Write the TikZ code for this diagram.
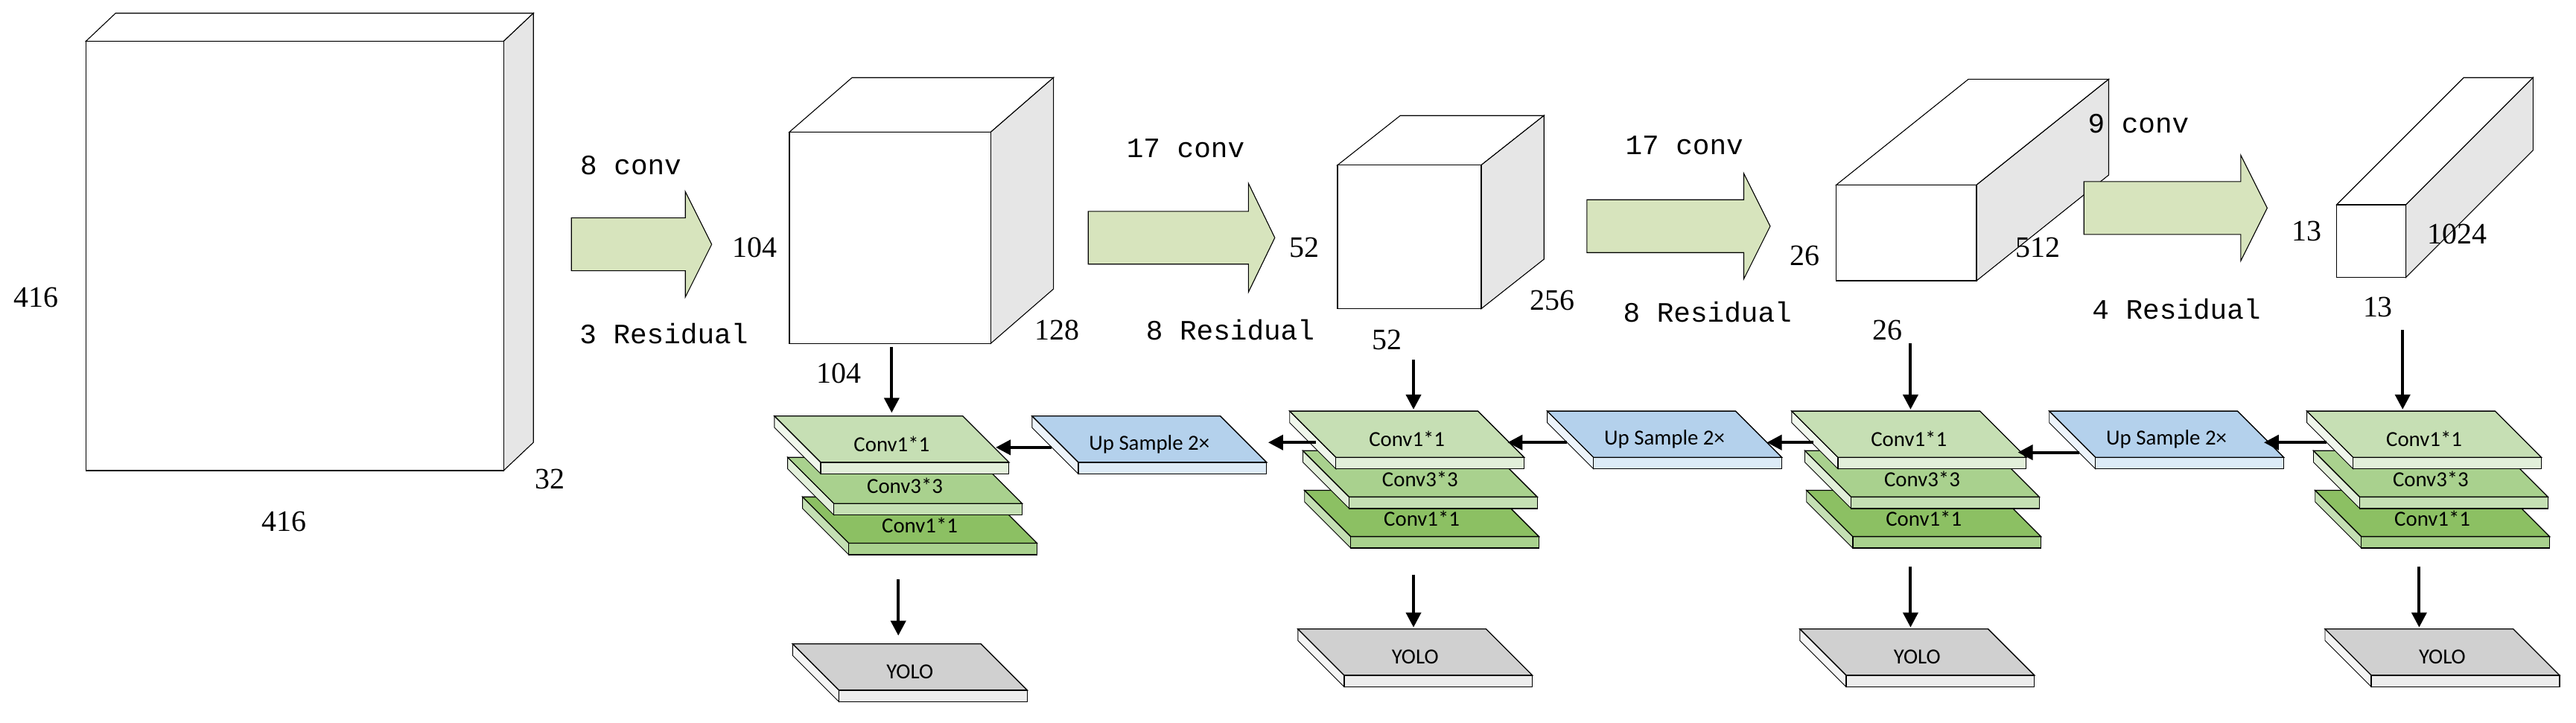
\documentclass[tikz,border=0pt]{standalone}
\usepackage{fontspec}
\setmainfont{Liberation Serif}
\newfontfamily\monof{Liberation Mono}
\newfontfamily\calf{Carlito}
\usetikzlibrary{arrows.meta}
\definecolor{gA}{HTML}{C6DFB4}\definecolor{gAf}{HTML}{E2EFDA}\definecolor{gAs}{HTML}{F0F7EC}
\definecolor{gB}{HTML}{A9D18E}\definecolor{gBf}{HTML}{C5E0B4}\definecolor{gBs}{HTML}{E2EFDA}
\definecolor{gC}{HTML}{8CC063}\definecolor{gCf}{HTML}{A9D18E}\definecolor{gCs}{HTML}{C5E0B4}
\definecolor{bA}{HTML}{B4D1EC}\definecolor{bAf}{HTML}{DDEBF7}\definecolor{bAs}{HTML}{EDF4FB}
\definecolor{yA}{HTML}{D0D0D0}\definecolor{yAf}{HTML}{EDEDED}\definecolor{yAs}{HTML}{F4F4F4}
\definecolor{arr}{HTML}{D7E4BD}\definecolor{side}{HTML}{E6E6E6}
\tikzset{
  num/.style={font=\fontsize{18}{20}\selectfont},
  lab/.style={font=\monof\fontsize{17}{19}\selectfont},
  slabtxt/.style={font=\calf\fontsize{13}{15}\selectfont,inner sep=0pt},
  edge/.style={draw=black,line width=0.6pt},
  conn/.style={line width=1.8pt,-{Triangle[length=9pt,width=9pt]}},
}
% slab: name, x, y, top, front, side, text
\newcommand{\mkslab}[7]{%
  \fill[#6] (#2,#3) -- (#2+28,#3+28) -- (#2+28,#3+35) -- (#2,#3+7) -- cycle;
  \draw[line width=0.4pt] (#2,#3) -- (#2+28,#3+28) -- (#2+28,#3+35) -- (#2,#3+7) -- cycle;
  \filldraw[fill=#5,edge] (#2+28,#3+28) rectangle (#2+142,#3+35);
  \filldraw[fill=#4,edge] (#2,#3) -- (#2+114,#3) -- (#2+142,#3+28) -- (#2+28,#3+28) -- cycle;
  \node[slabtxt] (#1) at (#2+71,#3+17) {#7};
  \coordinate (#1-t) at (#2+71,#3);
  \coordinate (#1-r) at (#2+128,#3+16);
  \coordinate (#1-l) at (#2+14,#3+16);
}
% cube: name, x1,y1 (front top-left), x2,y2 (front bottom-right), dx, dy(up)
\newcommand{\mkcube}[7]{%
  \filldraw[fill=white,line width=0.5pt] (#2,#3) -- (#2+#6,#3-#7) -- (#4+#6,#3-#7) -- (#4,#3) -- cycle;
  \filldraw[fill=side,line width=0.5pt] (#4,#3) -- (#4+#6,#3-#7) -- (#4+#6,#5-#7) -- (#4,#5) -- cycle;
  \filldraw[fill=white,line width=0.6pt] (#2,#3) rectangle (#4,#5);
  \coordinate (#1) at ({(#2+#4)/2},#5);
}
% block arrow: x0, body-end, tip, center y, body half, head half
\newcommand{\mkarrow}[6]{%
  \filldraw[fill=arr,line width=0.5pt] (#1,#4-#5) -- (#2,#4-#5) -- (#2,#4-#6) -- (#3,#4) -- (#2,#4+#6) -- (#2,#4+#5) -- (#1,#4+#5) -- cycle;
}
\begin{document}
\begin{tikzpicture}[x=1pt,y=-1pt]
\useasboundingbox (0,0) rectangle (1560,437.9);
% cubes
\mkcube{c1}{52}{25}{305}{285}{18}{17}
\mkcube{c2}{478}{80}{600}{208}{38}{33}
\mkcube{c3}{810}{100}{897}{187}{38}{30}
\mkcube{c4}{1112}{112}{1197}{170}{80}{64}
\mkcube{c5}{1415}{124}{1457}{168}{77}{77}
\node[num] (n1) at (22,180) {416};
\node[num] (n2) at (172,316) {416};
\node[num] (n3) at (333,290) {32};
\node[num] at (457,150) {104};
\node[num] at (640,200) {128};
\node[num] at (508,226) {104};
\node[num] at (790,150) {52};
\node[num] at (940,182) {256};
\node[num] at (840,206) {52};
\node[num] at (1093,155) {26};
\node[num] at (1234,150) {512};
\node[num] at (1143,200) {26};
\node[num] at (1397,140) {13};
\node[num] at (1488,142) {1024};
\node[num] at (1440,186) {13};
% block arrows
\mkarrow{346}{415}{431}{148}{16}{32}
\mkarrow{659}{756}{772}{144}{16}{33}
\mkarrow{961}{1056}{1072}{137}{16}{32}
\mkarrow{1262}{1357}{1373}{126}{16}{32}
\node[lab] at (382,100) {8 conv};
\node[lab] at (402,202) {3 Residual};
\node[lab] at (718,90) {17 conv};
\node[lab] at (745,200) {8 Residual};
\node[lab] at (1020,88) {17 conv};
\node[lab] at (1034,189) {8 Residual};
\node[lab] at (1295,75) {9 conv};
\node[lab] at (1318,187) {4 Residual};
% stacks
\mkslab{s1c}{486}{301}{gC}{gCf}{gCs}{Conv1*1}
\mkslab{s1b}{477}{277}{gB}{gBf}{gBs}{Conv3*3}
\mkslab{s1a}{469}{252}{gA}{gAf}{gAs}{Conv1*1}
\mkslab{s2c}{790}{297}{gC}{gCf}{gCs}{Conv1*1}
\mkslab{s2b}{789}{273}{gB}{gBf}{gBs}{Conv3*3}
\mkslab{s2a}{781}{249}{gA}{gAf}{gAs}{Conv1*1}
\mkslab{s3c}{1094}{297}{gC}{gCf}{gCs}{Conv1*1}
\mkslab{s3b}{1093}{273}{gB}{gBf}{gBs}{Conv3*3}
\mkslab{s3a}{1085}{249}{gA}{gAf}{gAs}{Conv1*1}
\mkslab{s4c}{1402}{297}{gC}{gCf}{gCs}{Conv1*1}
\mkslab{s4b}{1401}{273}{gB}{gBf}{gBs}{Conv3*3}
\mkslab{s4a}{1397}{249}{gA}{gAf}{gAs}{Conv1*1}
\mkslab{u1}{625}{252}{bA}{bAf}{bAs}{Up Sample 2×}
\mkslab{u2}{937}{249}{bA}{bAf}{bAs}{Up Sample 2×}
\mkslab{u3}{1241}{249}{bA}{bAf}{bAs}{Up Sample 2×}
\mkslab{y1}{480}{390}{yA}{yAf}{yAs}{YOLO}
\mkslab{y2}{786}{381}{yA}{yAf}{yAs}{YOLO}
\mkslab{y3}{1090}{381}{yA}{yAf}{yAs}{YOLO}
\mkslab{y4}{1408}{381}{yA}{yAf}{yAs}{YOLO}
% arrow anchors
\coordinate (d1s) at (540,210); \coordinate (d1e) at (540,250);
\coordinate (d2s) at (856,218); \coordinate (d2e) at (856,248);
\coordinate (d3s) at (1157,208); \coordinate (d3e) at (1157,248);
\coordinate (d4s) at (1455,200); \coordinate (d4e) at (1455,248);
\coordinate (e1s) at (544,351); \coordinate (e1e) at (544,385);
\coordinate (e2s) at (856,348); \coordinate (e2e) at (856,380);
\coordinate (e3s) at (1157,343); \coordinate (e3e) at (1157,380);
\coordinate (e4s) at (1465,343); \coordinate (e4e) at (1465,380);
\coordinate (h1s) at (637,271); \coordinate (h1e) at (603,271);
\coordinate (h2s) at (797,268); \coordinate (h2e) at (768,268);
\coordinate (h3s) at (949,268); \coordinate (h3e) at (913,268);
\coordinate (h4s) at (1098,268); \coordinate (h4e) at (1070,268);
\coordinate (h5s) at (1259,274); \coordinate (h5e) at (1222,274);
\coordinate (h6s) at (1409,268); \coordinate (h6e) at (1371,268);
\foreach \a in {d1,d2,d3,d4,e1,e2,e3,e4,h1,h2,h3,h4,h5,h6}{\draw[conn] (\a s) -- (\a e);}
\end{tikzpicture}
\end{document}
